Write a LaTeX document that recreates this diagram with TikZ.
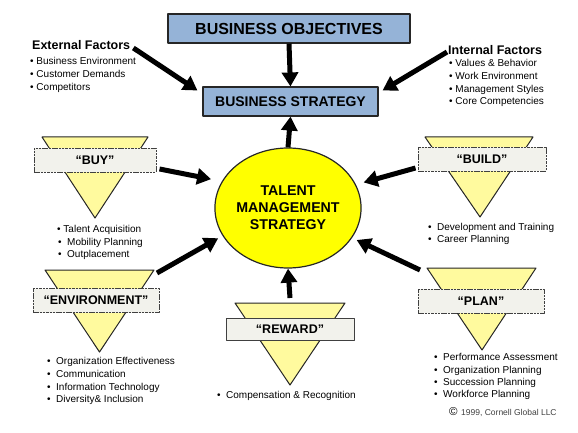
\documentclass[tikz,border=0pt]{standalone}
\usepackage{fontspec}
\setmainfont{Liberation Sans}
\usetikzlibrary{arrows.meta,calc,shapes.geometric}
\definecolor{boxblue}{HTML}{95B3D7}
\definecolor{triyellow}{HTML}{FFFA9E}
\definecolor{tmsyellow}{HTML}{FFFF00}
\definecolor{tagfill}{HTML}{F2F2EC}
\newcommand{\tbul}{•\hspace{5.5pt}}

\begin{document}
\begin{tikzpicture}[
    x=1pt, y=-1pt, line join=round,
    bigarrow/.style ={line width=5pt, -{Triangle[length=14pt,width=16pt]}},
    goalbox/.style  ={draw=black!85, fill=boxblue, line width=1.1pt, inner sep=0pt, minimum height=29pt, font=\fontsize{16}{18}\selectfont\bfseries},
    tri/.style      ={draw=black!85, fill=triyellow, line width=1pt},
    tag/.style      ={draw=black!75, fill=tagfill, line width=1pt, dash pattern=on 2.5pt off 0.8pt, minimum height=24pt, inner sep=0pt, font=\fontsize{12.5}{14}\selectfont\bfseries},
    fhead/.style    ={anchor=west, inner sep=0pt, font=\fontsize{12.5}{15}\selectfont\bfseries},
    bul/.style      ={anchor=west, inner sep=0pt, text height=7.5pt, text depth=2pt, font=\fontsize{10}{12}\selectfont}
]
\useasboundingbox (0,0) rectangle (578,433);

% goals and centre
\node[goalbox, minimum width=242pt] (obj) at (289,28.5) {BUSINESS OBJECTIVES};
\node[goalbox, minimum width=175pt, font=\fontsize{14}{17}\selectfont\bfseries] (strat) at (290.5,101.5) {BUSINESS STRATEGY};
\node[ellipse, draw=black!85, fill=tmsyellow, line width=1.2pt, minimum width=142pt, minimum height=120pt, inner sep=0pt,
      align=center, font=\fontsize{14.2}{17}\selectfont\bfseries] (tms) at (288,208) {TALENT\\MANAGEMENT\\STRATEGY};

% external / internal factors
\node[fhead] (ext) at (32,45) {External Factors};
\foreach \txt [count=\i] in {Business Environment, Customer Demands, Competitors}
  \node[bul] (ext\i) at (30,{49+13*\i}) {• \txt};
\node[fhead] (int) at (448,50) {Internal Factors};
\foreach \txt [count=\i] in {Values \& Behavior, Work Environment, Management Styles, Core Competencies}
  \node[bul] (int\i) at (449,{51.3+12.7*\i}) {• \txt};

% "BUY"
\draw[tri] (42,137) -- (148,137) -- (95,218) -- cycle;
\node[tag, minimum width=122pt] (buy) at (95,160) {“BUY”};
\node[bul] (buy1) at (57,230) {• Talent Acquisition};
\node[bul] (buy2) at (58,242.5) {\tbul Mobility Planning};
\node[bul] (buy3) at (58,255) {\tbul Outplacement};

% "BUILD"
\draw[tri] (425,137) -- (533,137) -- (480,217) -- cycle;
\node[tag, minimum width=128pt] (build) at (482,159) {“BUILD”};
\node[bul] (build1) at (428,228) {\tbul Development and Training};
\node[bul] (build2) at (428,240) {\tbul Career Planning};

% "ENVIRONMENT"
\draw[tri] (45,270) -- (154,270) coordinate (envR) -- (99.5,352) -- cycle;
\node[tag, minimum width=126pt] (env) at (96,300.5) {“ENVIRONMENT”};
\foreach \txt [count=\i] in {Organization Effectiveness, Communication, Information Technology, Diversity\& Inclusion}
  \node[bul] (env\i) at (47,{349.5+12.6*\i}) {\tbul\txt};

% "REWARD"
\draw[tri] (235,303) coordinate (rewL) -- (345,303) -- (290,385) -- cycle;
\coordinate (rewtop) at (290,298);
\node[tag, minimum width=128pt, minimum height=22pt, solid] (reward) at (290,329) {“REWARD”};
\node[bul] (reward1) at (217,396) {\tbul Compensation \& Recognition};

% "PLAN"
\draw[tri] (427,268) coordinate (planL) -- (536,268) -- (482,350) -- cycle;
\node[tag, minimum width=126pt] (plan) at (481,301) {“PLAN”};
\foreach \txt [count=\i] in {Performance Assessment, Organization Planning, Succession Planning, Workforce Planning}
  \node[bul] (plan\i) at (434,{345.5+12.4*\i}) {\tbul\txt};

\node[anchor=west, inner sep=0pt, font=\fontsize{11.5}{12}\selectfont] (copy) at (449,412) {©};
\node[anchor=west, inner sep=0pt, font=\fontsize{8.5}{10}\selectfont, text=black!75] (cyr) at (461,413) {1999, Cornell Global LLC};

% arrows
\draw[bigarrow] (obj.south) -- (strat.north);
\draw[bigarrow] (tms.north) -- (strat.south);
\draw[bigarrow] ([shift={(3pt,-3pt)}]ext.east) -- ([shift={(-5pt,11pt)}]strat.west);
\draw[bigarrow] ([shift={(-1pt,-2pt)}]int.west) -- ([shift={(4pt,11pt)}]strat.east);
\draw[bigarrow, shorten >=11pt] ([shift={(3pt,-9pt)}]buy.east) -- (tms.158);
\draw[bigarrow, shorten >=8pt] ([shift={(-2pt,-9pt)}]build.west) -- (tms.19);
\draw[bigarrow, shorten >=5pt] ([shift={(3pt,-3pt)}]envR) -- (tms.203);
\draw[bigarrow, shorten >=5pt] ([shift={(-7pt,-2pt)}]planL) -- (tms.-25);
\draw[bigarrow] (rewtop) -- (tms.south);
\end{tikzpicture}
\end{document}
